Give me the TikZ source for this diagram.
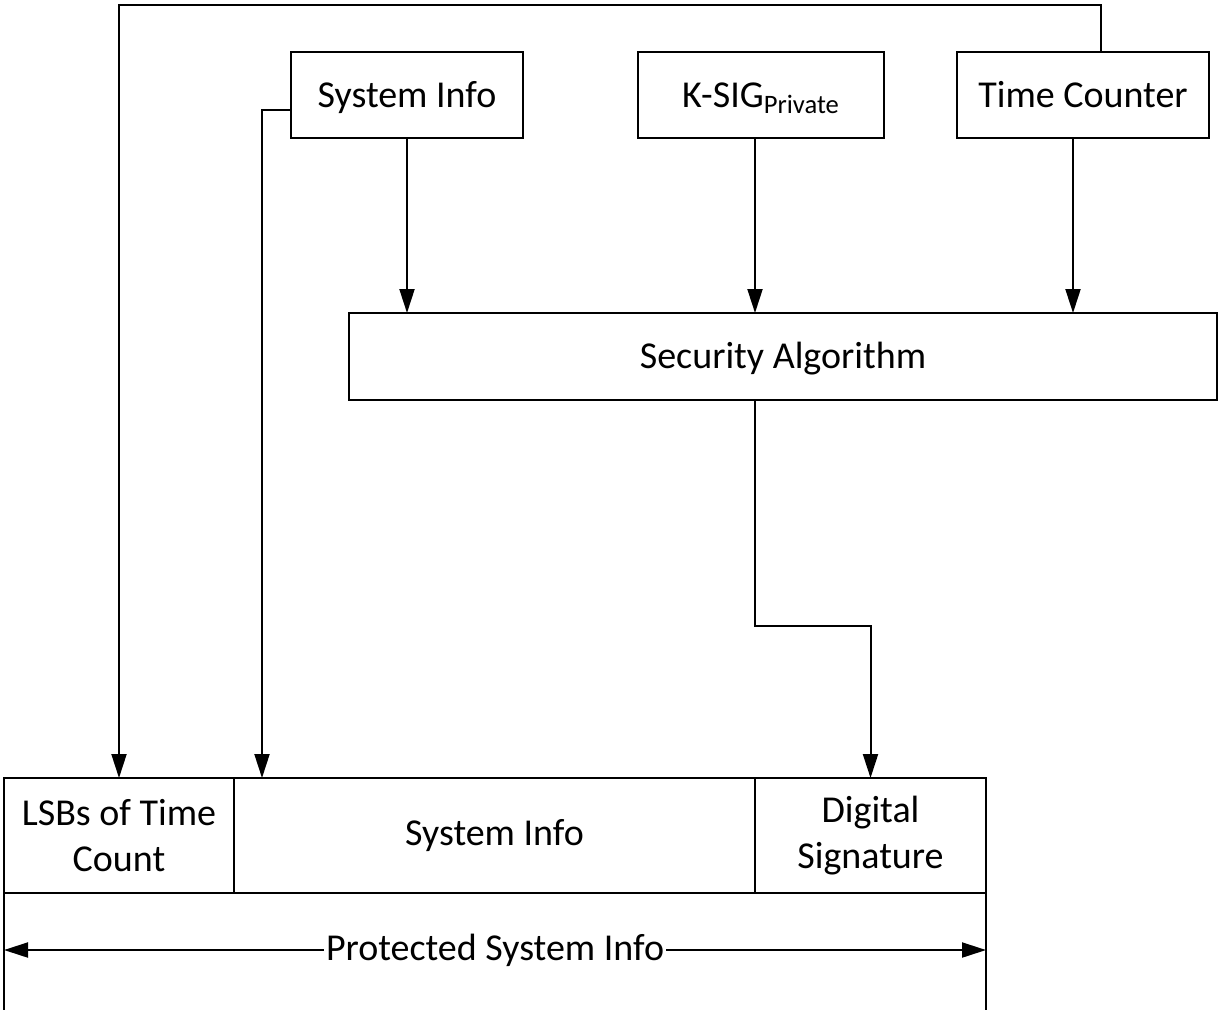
\documentclass[tikz,border=0pt]{standalone}
\usepackage{fontspec}
\setmainfont{Carlito}
\usepackage{tikz}
\usetikzlibrary{arrows.meta, positioning, calc}

\begin{document}
\begin{tikzpicture}[
  x=0.5pt, y=-0.5pt,
  font=\fontsize{19}{23}\selectfont,
  line width=1pt,
  blk/.style={draw, rectangle, inner sep=0pt, outer sep=0pt, minimum height=43pt, text height=15pt, text depth=3pt, align=center},
  field/.style={draw, rectangle, inner sep=0pt, outer sep=0pt, minimum height=57.5pt, align=center},
  arr/.style={-{Triangle[length=12pt, width=7.5pt]}},
  dblarr/.style={{Triangle[length=12pt, width=7.5pt]}-{Triangle[length=12pt, width=7.5pt]}}
]
  \useasboundingbox (0,0) rectangle (1224,1024);

  \node[blk, minimum width=116pt] (sysinfo) at (407,95) {System Info};
  \node[blk, minimum width=123pt] (ksig) at (761,95) {K-SIG\textsubscript{Private}};
  \node[blk, minimum width=126pt] (timectr) at (1083,95) {Time Counter};
  \node[blk, minimum width=434pt, minimum height=43.5pt] (secalg) at (783,356.5) {Security Algorithm};

  \node[field, minimum width=115pt] (lsbs) at (119,835.5) {LSBs of Time\\Count};
  \node[field, minimum width=260.5pt] (sysfield) at (494.5,835.5) {System Info};
  \node[field, minimum width=115.5pt] (digsig) at (870.5,835.5) {Digital\\Signature};

  \draw[arr] (sysinfo.south) -- (sysinfo.south |- secalg.north);
  \draw[arr] (ksig.south -| sysfield.north east) -- (secalg.north -| sysfield.north east);
  \draw[arr] ([xshift=-5pt]timectr.south) -- ([xshift=-5pt]timectr.south |- secalg.north);

  \draw[arr] (secalg.south -| sysfield.north east) -- ++(0,-113pt) -| (digsig.north);
  \draw[arr] ([xshift=9pt]timectr.north) -- ++(0,23.5pt) -| (lsbs.north);
  \draw[arr] ([yshift=-7.5pt]sysinfo.west) -| ([xshift=14pt]lsbs.north east);

  \draw (lsbs.south west) -- ++(0,-58.5pt);
  \draw (digsig.south east) -- ++(0,-58.5pt);
  \draw[dblarr] ([yshift=-28.5pt]lsbs.south west) -- ([yshift=-28.5pt]digsig.south east)
    node[midway, fill=white, inner sep=1pt] {Protected System Info};
\end{tikzpicture}
\end{document}
